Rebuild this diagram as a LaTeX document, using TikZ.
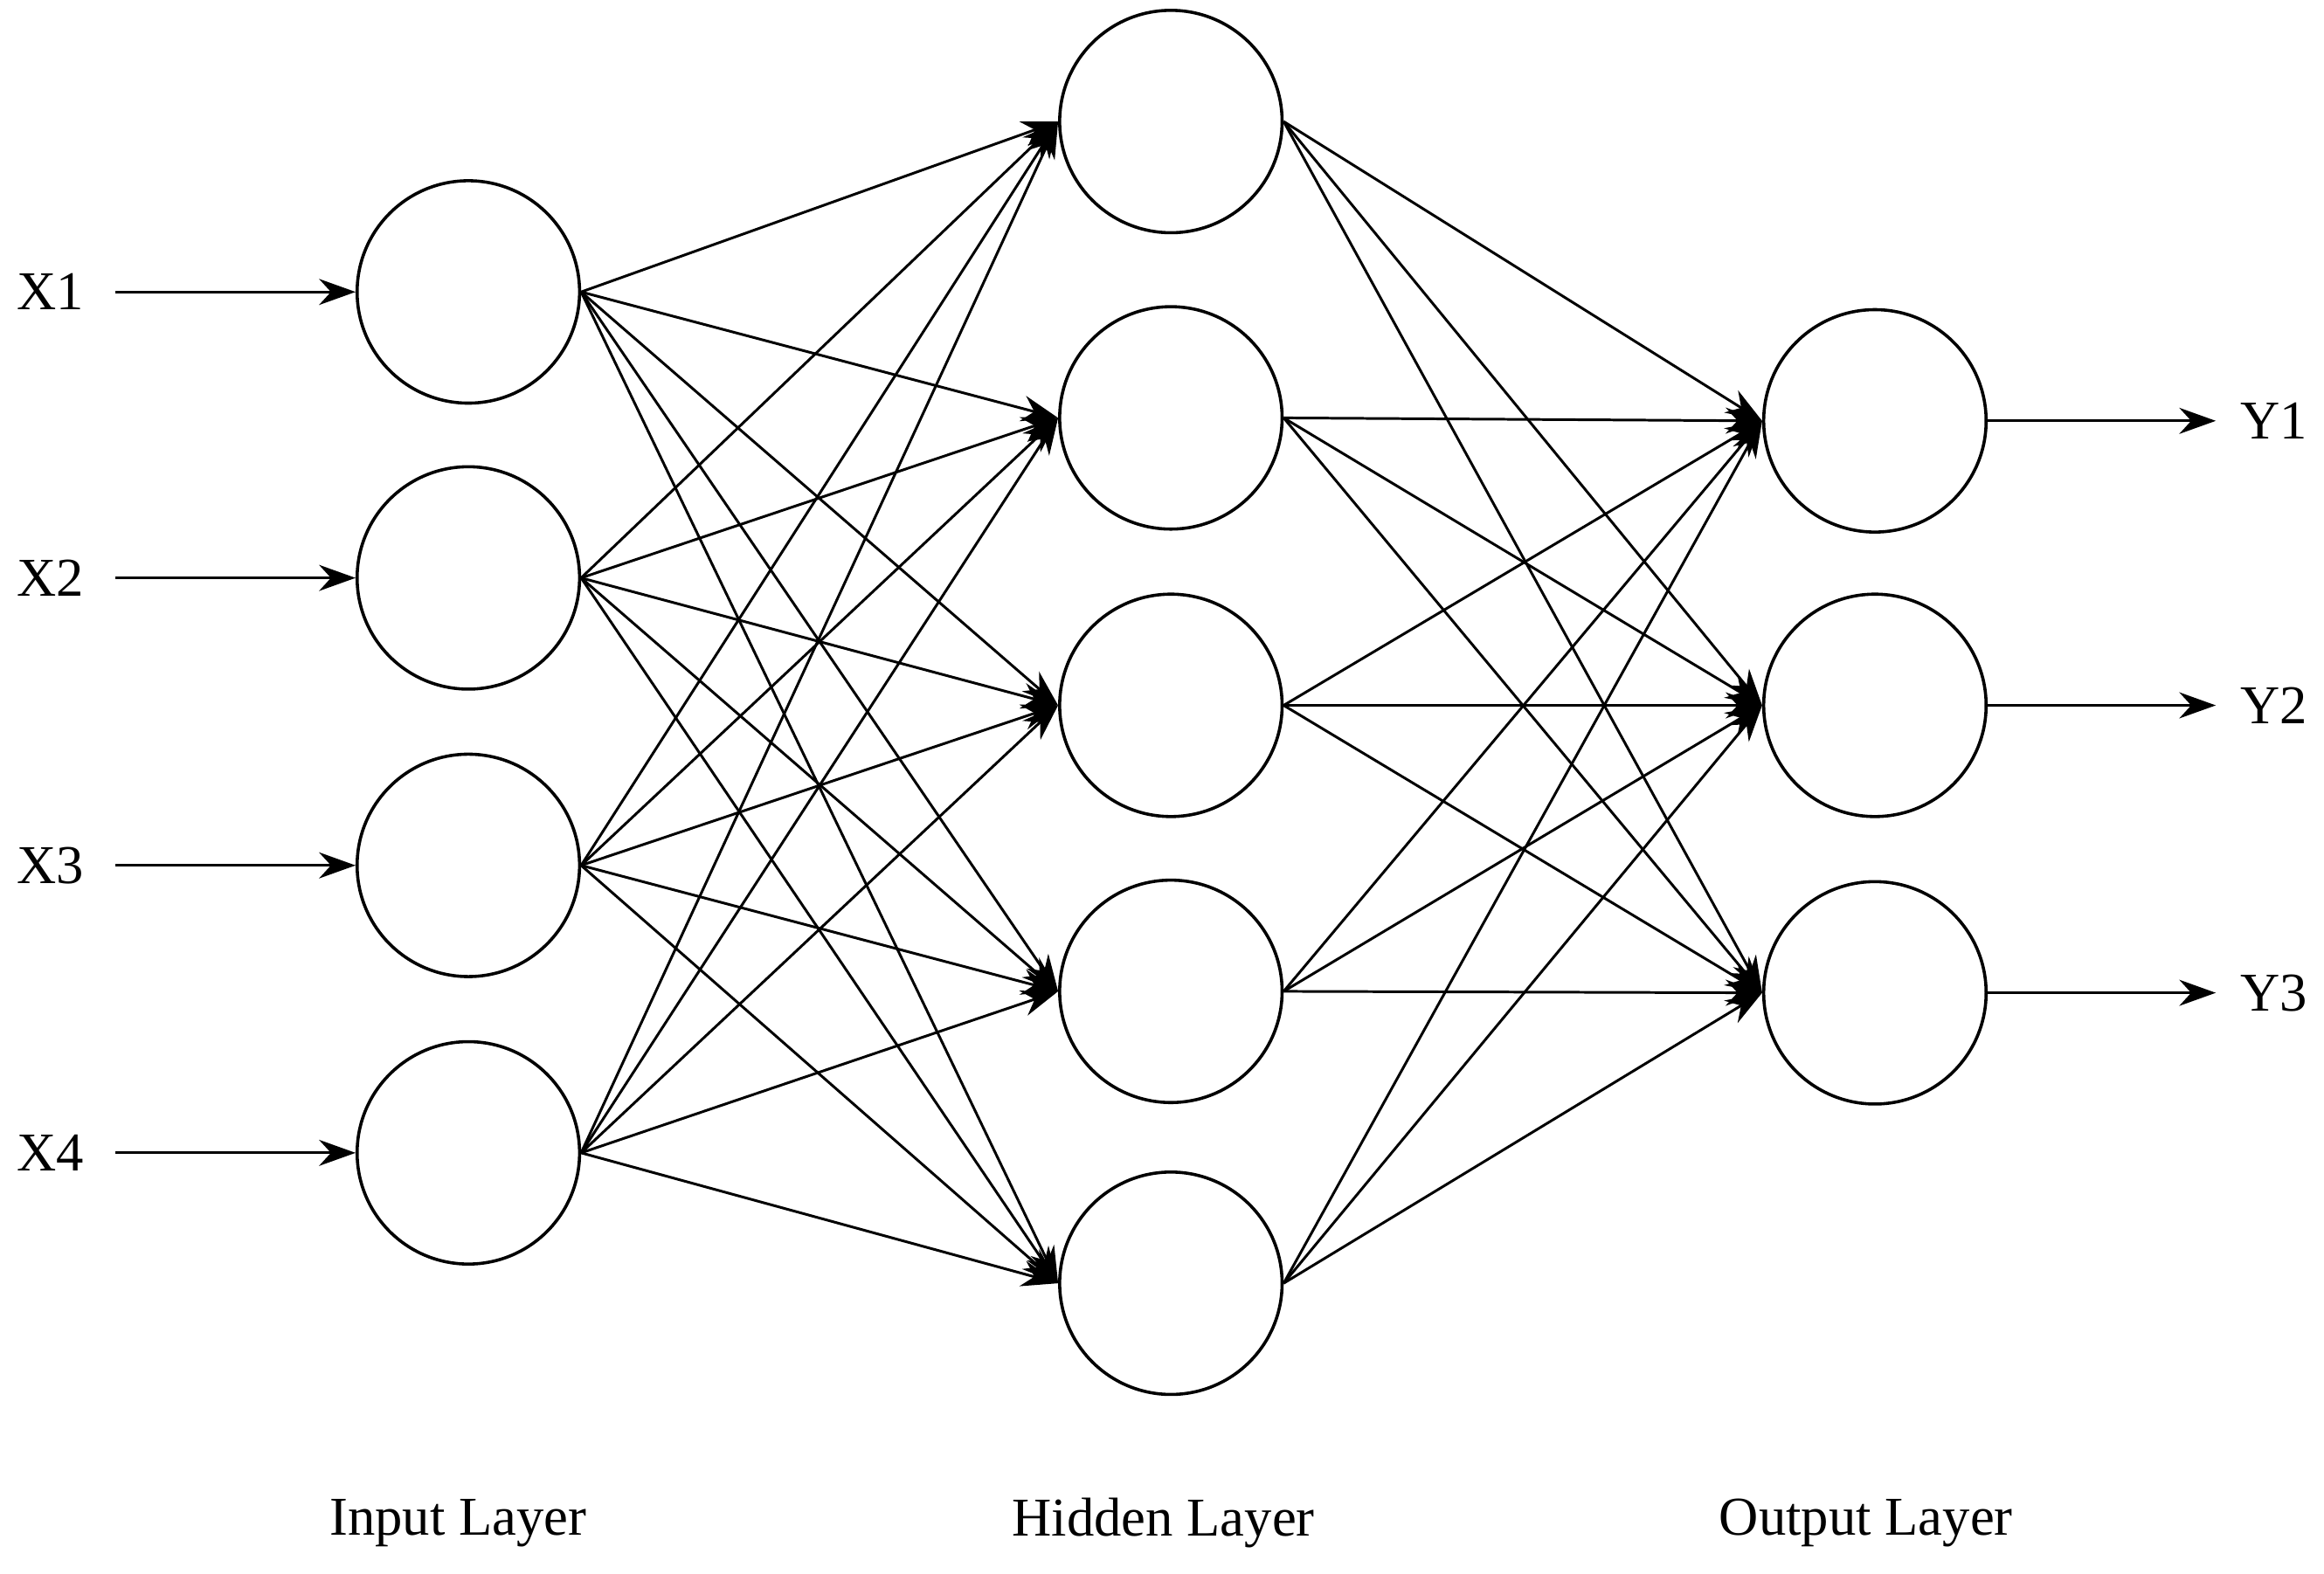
\documentclass[tikz,border=0pt]{standalone}
\usepackage{fontspec}
\setmainfont{Liberation Serif}
\usetikzlibrary{arrows.meta}
\begin{document}
\begin{tikzpicture}[x=0.01cm,y=-0.01cm,
  neuron/.style={circle,draw,line width=0.6pt,minimum size=1.5cm,inner sep=0pt},
  conn/.style={line width=0.5pt,-{Stealth[length=7pt,width=5pt]}},
  lbl/.style={font=\fontsize{10.5pt}{12pt}\selectfont}]
\useasboundingbox (0,0) rectangle (1568,1062);
\foreach \i/\y in {1/197,2/390,3/584,4/778}{
  \node[neuron] (I\i) at (316,\y) {};
  \node[lbl] (X\i) at (34,\y) {X\i};
  \coordinate (s\i) at (78,\y);
  \draw[conn] (s\i) -- (I\i.west);
}
\foreach \i/\y in {1/82,2/282,3/476,4/669,5/866}{
  \node[neuron] (H\i) at (790,\y) {};
}
\foreach \i/\y in {1/284,2/476,3/670}{
  \node[neuron] (O\i) at (1265,\y) {};
  \coordinate (e\i) at (1495,\y);
  \node[lbl] (Y\i) at (1534,\y) {Y\i};
  \draw[conn] (O\i.east) -- (e\i);
}
\foreach \i in {1,...,4}{\foreach \j in {1,...,5}{\draw[conn] (I\i.east) -- (H\j.west);}}
\foreach \j in {1,...,5}{\foreach \k in {1,...,3}{\draw[conn] (H\j.east) -- (O\k.west);}}
\node[lbl] (L1) at (309,1028) {Input Layer};
\node[lbl] (L2) at (785,1028) {Hidden Layer};
\node[lbl] (L3) at (1259,1028) {Output Layer};
\end{tikzpicture}
\end{document}
